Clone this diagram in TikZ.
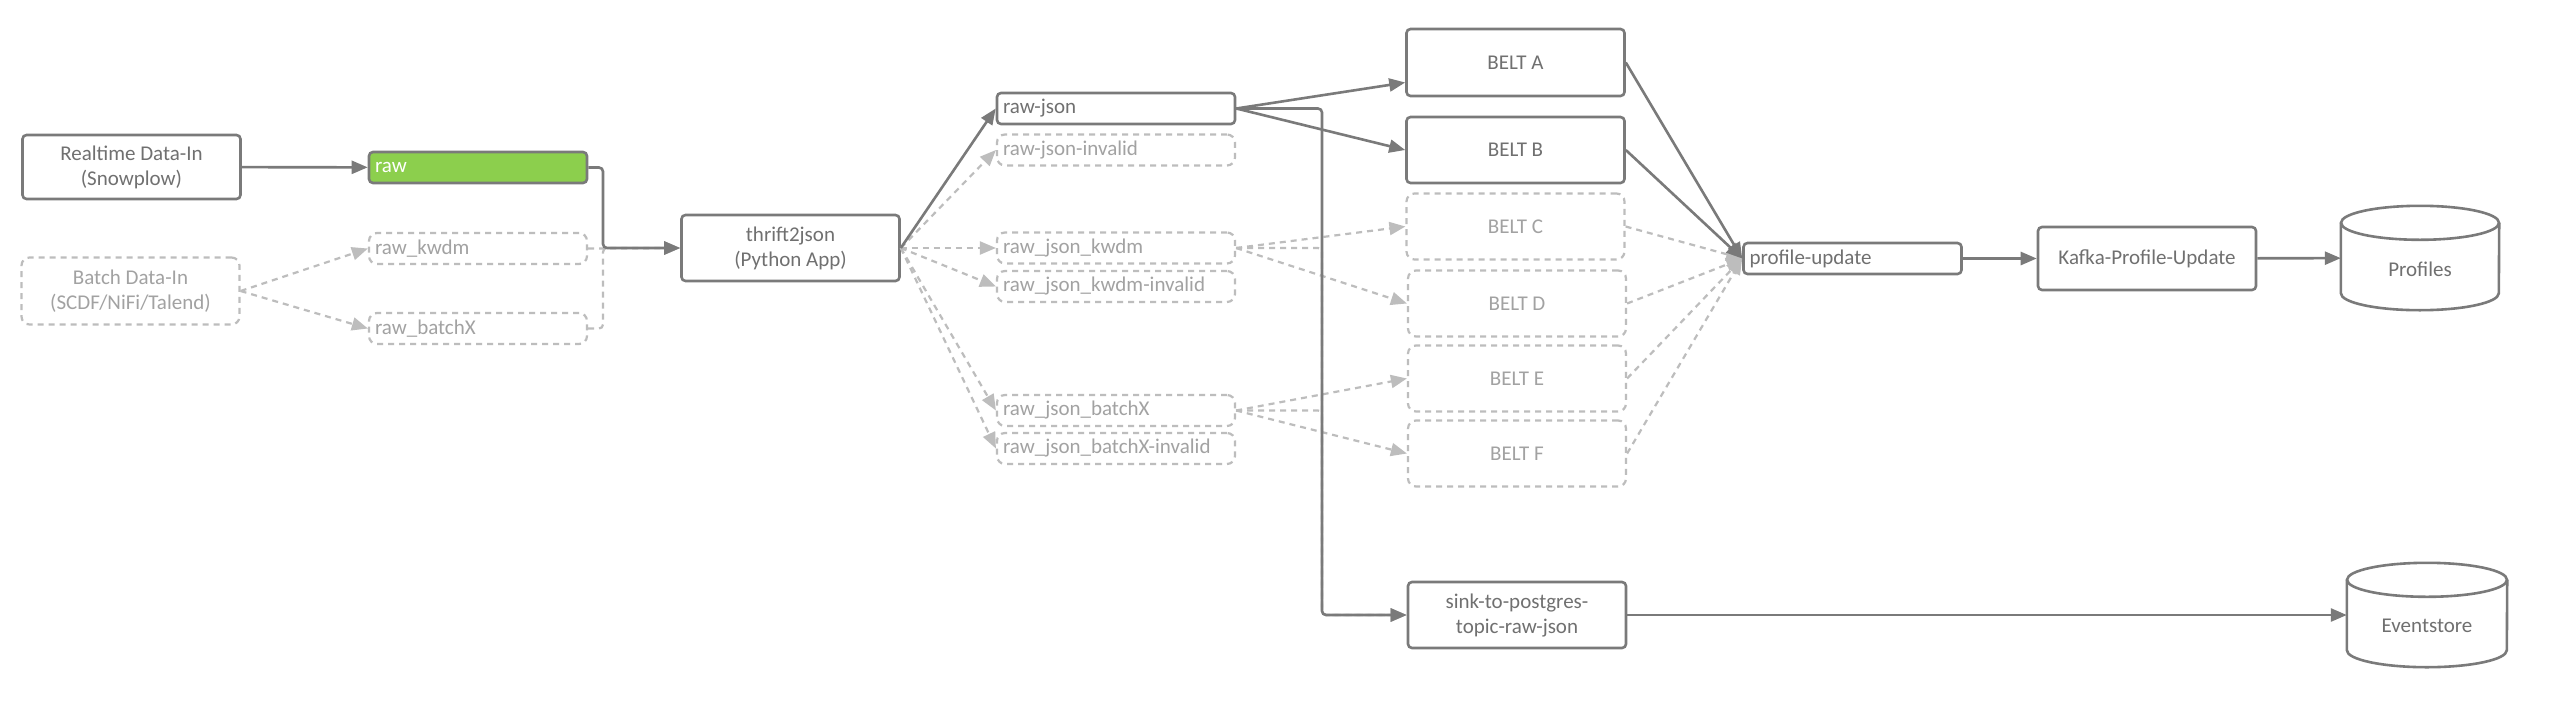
\documentclass[tikz,border=0pt]{standalone}
\usepackage{fontspec}
\setmainfont{Carlito}
\usetikzlibrary{arrows.meta}
\definecolor{ln}{HTML}{7A7A7A}
\definecolor{dl}{HTML}{BDBDBD}
\definecolor{tx}{HTML}{707070}
\definecolor{dtx}{HTML}{A2A2A2}
\definecolor{grn}{HTML}{8CCF4D}
\begin{document}
\begin{tikzpicture}[x=1pt,y=-1pt,
  font=\fontsize{21}{25}\selectfont,
  solidbox/.style={draw=ln, line width=2.6pt, rounded corners=4pt, text=tx, inner sep=0pt, align=center},
  dashbox/.style={draw=dl, line width=2.2pt, dash pattern=on 6pt off 5pt, rounded corners=8pt, text=dtx, inner sep=0pt, align=center},
  big/.style={minimum width=218pt, minimum height=66pt},
  topic/.style={minimum height=31pt, text width=#1, inner xsep=6pt, align=left},
  conn/.style={draw=ln, line width=2.6pt, -{Triangle[length=16pt,width=13pt]}},
  dconn/.style={draw=dl, line width=2.2pt, dash pattern=on 6pt off 5pt, -{Triangle[length=16pt,width=13pt]}},
  cylbox/.style={minimum width=#1, minimum height=104pt, inner sep=0pt},
  cylline/.style={draw=ln, line width=2.6pt},
]
\useasboundingbox (0,0) rectangle (2558,707);
\fill[white] (0,0) rectangle (2558,707);

% sources
\node[solidbox, big, minimum height=64pt] (rt) at (131.5,167) {Realtime Data-In\\(Snowplow)};
\node[dashbox, big, minimum height=67pt] (bt) at (130.5,291) {Batch Data-In\\(SCDF/NiFi/Talend)};

% raw topics
\node[solidbox, topic=206pt, fill=grn, text=white] (raw) at (478,167.5) {raw};
\node[dashbox, topic=206pt] (rawk) at (478,248.5) {raw\_kwdm};
\node[dashbox, topic=206pt] (rawb) at (478,328.5) {raw\_batchX};

% app
\node[solidbox, big] (th) at (790.5,248) {thrift2json\\(Python App)};

% json topics
\node[solidbox, topic=226pt] (rj) at (1116,108.5) {raw-json};
\node[dashbox, topic=226pt] (rji) at (1116,150) {raw-json-invalid};
\node[dashbox, topic=226pt] (rjk) at (1116,248) {raw\_json\_kwdm};
\node[dashbox, topic=226pt] (rjki) at (1116,286.5) {raw\_json\_kwdm-invalid};
\node[dashbox, topic=226pt] (rjb) at (1116,410.5) {raw\_json\_batchX};
\node[dashbox, topic=226pt] (rjbi) at (1116,448.5) {raw\_json\_batchX-invalid};

% belts
\node[solidbox, big, minimum height=67pt] (ba) at (1515.5,62.5) {BELT A};
\node[solidbox, big] (bb) at (1515.5,150) {BELT B};
\node[dashbox, big] (bc) at (1515.5,226.5) {BELT C};
\node[dashbox, big] (bd) at (1517,303.5) {BELT D};
\node[dashbox, big] (be) at (1517,378.5) {BELT E};
\node[dashbox, big] (bf) at (1517,453.5) {BELT F};

% profile path
\node[solidbox, topic=206pt] (pu) at (1852.5,258.5) {profile-update};
\node[solidbox, big, minimum height=63pt] (kf) at (2147,258.5) {Kafka-Profile-Update};
\node[cylbox=158pt] (prof) at (2420,258) {};
\draw[cylline] ([yshift=-17pt]prof.north west) -- ([yshift=17pt]prof.south west)
  arc[start angle=180, end angle=360, x radius=79pt, y radius=17pt]
  -- ([yshift=-17pt]prof.north east);
\draw[cylline] ([yshift=-17pt]prof.north) ellipse [x radius=79pt, y radius=17pt];
\node[text=tx] (proft) at ([yshift=-11pt]prof.center) {Profiles};

% sink path
\node[solidbox, big] (sink) at (1517,615) {sink-to-postgres-\\topic-raw-json};
\node[cylbox=160pt] (ev) at (2427,615) {};
\draw[cylline] ([yshift=-17pt]ev.north west) -- ([yshift=17pt]ev.south west)
  arc[start angle=180, end angle=360, x radius=80pt, y radius=17pt]
  -- ([yshift=-17pt]ev.north east);
\draw[cylline] ([yshift=-17pt]ev.north) ellipse [x radius=80pt, y radius=17pt];
\node[text=tx] (evt) at ([yshift=-11pt]ev.center) {Eventstore};

% junction coordinates
\coordinate (j1) at (603,248);
\coordinate (j2) at (1322,108.5);
\coordinate (j3) at (1322,248);
\coordinate (j4) at (1322,410.5);

% dashed connectors
\draw[dconn] (bt.east) -- (rawk.west);
\draw[dconn] (bt.east) -- (rawb.west);
\draw[dconn] (rawk.east) -- (th.west);
\draw[dconn, rounded corners=4pt] (rawb.east) -| (j1) -- (th.west);
\draw[dconn] (th.east) -- (rji.west);
\draw[dconn] (th.east) -- (rjk.west);
\draw[dconn] (th.east) -- (rjki.west);
\draw[dconn] (th.east) -- (rjb.west);
\draw[dconn] (th.east) -- (rjbi.west);
\draw[dconn] (rjk.east) -- (bc.west);
\draw[dconn] (rjk.east) -- (bd.west);
\draw[dconn] (rjb.east) -- (be.west);
\draw[dconn] (rjb.east) -- (bf.west);
\draw[dconn, rounded corners=4pt] (rjk.east) -- (j3) |- (sink.west);
\draw[dconn, rounded corners=4pt] (rjb.east) -- (j4) |- (sink.west);
\draw[dconn] (bc.east) -- (pu.west);
\draw[dconn] (bd.east) -- (pu.west);
\draw[dconn] (be.east) -- (pu.west);
\draw[dconn] (bf.east) -- (pu.west);

% solid connectors
\draw[conn] (rt) -- (raw);
\draw[conn, rounded corners=4pt] (raw.east) -| (j1) -- (th.west);
\draw[conn] (th.east) -- (rj.west);
\draw[conn] (rj.east) -- ([yshift=-20pt]ba.west);
\draw[conn] (rj.east) -- (bb.west);
\draw[conn, rounded corners=4pt] (rj.east) -- (j2) |- (sink.west);
\draw[conn] (ba.east) -- (pu.west);
\draw[conn] (bb.east) -- (pu.west);
\draw[conn] (pu) -- (kf);
\draw[conn] (kf) -- (prof);
\draw[conn] (sink) -- (ev);
\end{tikzpicture}
\end{document}
